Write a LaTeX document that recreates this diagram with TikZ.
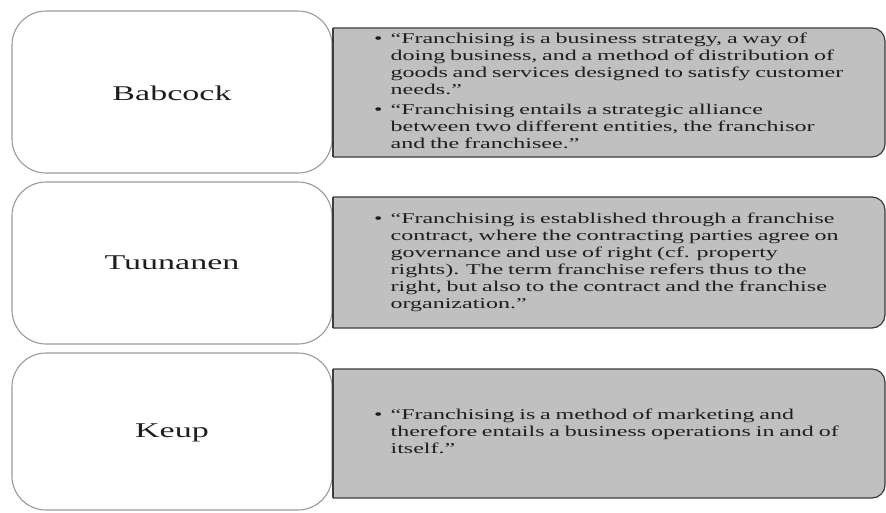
\documentclass[tikz,border=0pt]{standalone}
\usepackage{fontspec}
\setmainfont{Liberation Serif}
\newfontfamily\bodyfont[FakeStretch=1.6,WordSpace=0.8]{Liberation Serif}
\newfontfamily\labfont[FakeStretch=1.62]{Liberation Serif}
\definecolor{boxgrey}{HTML}{C0C0C0}
\definecolor{edgegrey}{HTML}{3C3C3C}
\definecolor{softedge}{HTML}{9A9A9A}
\definecolor{txt}{HTML}{1E1E1E}
\tikzset{
  whitebox/.style={fill=white, draw=softedge, line width=1.1pt, rounded corners=34pt},
  greybox/.style={fill=boxgrey, draw=edgegrey, line width=1.2pt, rounded corners=13pt},
  leftedge/.style={draw=edgegrey, line width=1.2pt},
  lab/.style={inner sep=0pt, text=txt, font=\labfont\fontsize{21}{25}\selectfont},
  body/.style={inner sep=0pt, anchor=west, text=txt, font=\bodyfont\fontsize{15}{17}\selectfont}
}
\newcommand{\quotebox}[1]{\begin{tabular}{@{}l@{\hspace{8pt}}l@{}}#1\end{tabular}}
\begin{document}
\begin{tikzpicture}[x=1pt,y=-1pt]
\useasboundingbox (0,0) rectangle (886,512);
\fill[white] (0,0) rectangle (886,512);

% row 1
\draw[whitebox] (12,11) rectangle (332,173);
\begin{scope}
\clip (333,0) rectangle (886,512);
\draw[greybox] (300,28) rectangle (885,157);
\end{scope}
\draw[leftedge] (333,28) -- (333,157);
\node[lab] (babcock) at (172,93) {Babcock};
\node[body] (t1) at (374,92.5) {\quotebox{%
\textbullet & “Franchising is a business strategy, a way of\\
 & doing business, and a method of distribution of\\
 & goods and services designed to satisfy customer\\
 & needs.”\\[3pt]
\textbullet & “Franchising entails a strategic alliance\\
 & between two different entities, the franchisor\\
 & and the franchisee.”}};

% row 2
\draw[whitebox] (12,182) rectangle (332,344);
\begin{scope}
\clip (333,0) rectangle (886,512);
\draw[greybox] (300,197) rectangle (885,328);
\end{scope}
\draw[leftedge] (333,197) -- (333,328);
\node[lab] (tuunanen) at (172,263) {Tuunanen};
\node[body] (t2) at (374,262.5) {\quotebox{%
\textbullet & “Franchising is established through a franchise\\
 & contract, where the contracting parties agree on\\
 & governance and use of right (cf. property\\
 & rights). The term franchise refers thus to the\\
 & right, but also to the contract and the franchise\\
 & organization.”}};

% row 3
\draw[whitebox] (12,353) rectangle (332,510);
\begin{scope}
\clip (333,0) rectangle (886,512);
\draw[greybox] (300,369) rectangle (885,498);
\end{scope}
\draw[leftedge] (333,369) -- (333,498);
\node[lab] (keup) at (172,433) {Keup};
\node[body] (t3) at (374,433.5) {\quotebox{%
\textbullet & “Franchising is a method of marketing and\\
 & therefore entails a business operations in and of\\
 & itself.”}};
\end{tikzpicture}
\end{document}
